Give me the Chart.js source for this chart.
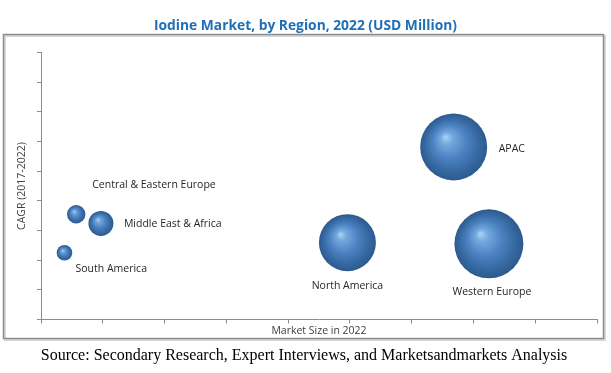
<!DOCTYPE html>
<html>
<head>
<meta charset="utf-8">
<script src="https://cdn.jsdelivr.net/npm/chart.js@4"></script>
<style>
  html, body { margin: 0; padding: 0; background: #fff; }
  #wrap { width: 611px; height: 373px; position: relative; }
</style>
</head>
<body>
<div id="wrap"><canvas id="chart"></canvas></div>
<script>
// region data (axis has no tick labels, so units are relative)
const regions     = ['APAC', 'Western Europe', 'North America', 'Central & Eastern Europe', 'Middle East & Africa', 'South America']
const marketSize  = [6.68, 7.25, 4.96, 0.57, 0.97, 0.38]
const cagr        = [5.82, 2.55, 2.59, 3.55, 3.24, 2.25]
const bubbleSize  = [33.5, 34.5, 28.5, 9.2, 12.5, 7.8]

// where each label sits relative to its bubble
const labelPlace = [
  { dx: 45, dy: 2,   align: 'left' },
  { dx: 3,  dy: 48,  align: 'center' },
  { dx: 0,  dy: 43,  align: 'center' },
  { dx: 16, dy: -29, align: 'left' },
  { dx: 23, dy: 1,   align: 'left' },
  { dx: 11, dy: 16,  align: 'left' },
]

const LABEL_FONT = '10.5px "Open Sans"'
const AXIS_COLOR = '#8c8c8c'

function sphere(c) {
  if (c.type !== 'data' || !c.chart.chartArea) return '#4a80c0'
  const chart = c.chart
  const px = chart.scales.x.getPixelForValue(c.raw.x)
  const py = chart.scales.y.getPixelForValue(c.raw.y)
  const r = c.raw.r
  if (!isFinite(px) || !isFinite(py)) return '#4a80c0'
  const g = chart.ctx.createRadialGradient(px - r * 0.25, py - r * 0.3, 0, px, py, r)
  g.addColorStop(0,    '#a9d4f6')
  g.addColorStop(0.18, '#74a9dd')
  g.addColorStop(0.5,  '#4c82c2')
  g.addColorStop(0.82, '#35679f')
  g.addColorStop(1,    '#2c5a8f')
  return g
}

const frame = {
  id: 'frame',
  beforeDraw(chart) {
    const ctx = chart.ctx
    ctx.save()
    ctx.strokeStyle = '#d9d9d9'
    ctx.lineWidth = 2
    ctx.strokeRect(5, 36, 600, 304)
    ctx.strokeStyle = AXIS_COLOR
    ctx.lineWidth = 1.5
    ctx.strokeRect(3.5, 34.5, 600, 304)
    ctx.restore()
  },
  afterDraw(chart) {
    const ctx = chart.ctx
    ctx.save()
    ctx.fillStyle = '#000'
    ctx.font = '16px "Liberation Serif"'
    ctx.textAlign = 'center'
    ctx.textBaseline = 'middle'
    ctx.fillText('Source: Secondary Research, Expert Interviews, and Marketsandmarkets Analysis', 304, 356)
    ctx.restore()
  },
}

const bubbleLabels = {
  id: 'bubbleLabels',
  afterDatasetsDraw(chart) {
    const ctx = chart.ctx
    const meta = chart.getDatasetMeta(0)
    ctx.save()
    ctx.font = LABEL_FONT
    ctx.fillStyle = '#262626'
    ctx.textBaseline = 'middle'
    meta.data.forEach((el, i) => {
      const p = labelPlace[i]
      ctx.textAlign = p.align
      ctx.fillText(regions[i], el.x + p.dx, el.y + p.dy)
    })
    ctx.restore()
  },
}

const axisCommon = {
  min: 0,
  max: 9,
  ticks: { display: false, stepSize: 1 },
  grid: { display: true, drawOnChartArea: false, drawTicks: true, tickLength: 4, color: AXIS_COLOR },
  border: { display: true, color: AXIS_COLOR, width: 1 },
}

const chart = new Chart(document.getElementById('chart'), {
  type: 'bubble',
  data: {
    datasets: [{
      label: 'Iodine market',
      data: regions.map((_, i) => ({ x: marketSize[i], y: cagr[i], r: bubbleSize[i] })),
      backgroundColor: sphere,
      borderWidth: 0,
      clip: false,
    }],
  },
  options: {
    responsive: true,
    maintainAspectRatio: false,
    animation: false,
    layout: { autoPadding: false, padding: 0 },
    plugins: {
      legend: { display: false },
      tooltip: { enabled: false },
      title: {
        display: true,
        text: 'Iodine Market, by Region, 2022 (USD Million)',
        color: '#1f6fb6',
        font: { family: 'Open Sans', size: 13.8, weight: 'bold' },
        padding: { top: 18, bottom: 18 },
      },
    },
    scales: {
      x: {
        ...axisCommon,
        title: { display: true, text: 'Market Size in 2022', color: '#404040', font: { family: 'Open Sans', size: 10.5 }, padding: { top: 0, bottom: 36 } },
        afterFit(scale) { scale.height = 53.5 },
      },
      y: {
        ...axisCommon,
        title: { display: true, text: 'CAGR (2017-2022)', color: '#404040', font: { family: 'Open Sans', size: 10.5 }, padding: { top: 16, bottom: 0 } },
        afterFit(scale) { scale.width = 41 },
      },
      // empty right-hand gutter so the plot ends where the reference's does
      gutter: {
        type: 'linear',
        position: 'right',
        ticks: { display: false },
        grid: { display: false },
        border: { display: false },
        afterFit(scale) { scale.width = 14 },
      },
    },
  },
  plugins: [frame, bubbleLabels],
})
chart.update()
</script>
</body>
</html>
